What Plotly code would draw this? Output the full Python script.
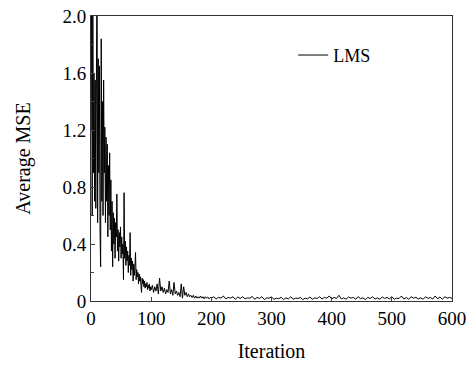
import plotly.graph_objects as go

iter_a = list(range(0, 100))
vals_a = [1.2, 2.4, 0.6, 2.3, 0.9, 1.6, 0.7, 1.55, 0.65, 1.3,
          2.4, 0.55, 1.7, 0.9, 1.65, 0.5, 0.24, 1.84, 0.7, 1.4,
          0.6, 1.55, 0.9, 1.22, 0.55, 1.15, 0.7, 1.1, 0.45, 0.95,
          0.6, 1.04, 0.5, 0.85, 0.35, 0.7, 0.24, 0.62, 0.4, 0.58,
          0.3, 0.55, 0.45, 0.75, 0.35, 0.5, 0.28, 0.48, 0.38, 0.52,
          0.3, 0.45, 0.33, 0.4, 0.15, 0.76, 0.3, 0.42, 0.25, 0.38,
          0.28, 0.35, 0.2, 0.32, 0.25, 0.48, 0.18, 0.3, 0.22, 0.28,
          0.14, 0.26, 0.18, 0.24, 0.34, 0.15, 0.22, 0.17, 0.2, 0.12,
          0.19, 0.14, 0.17, 0.11, 0.06, 0.16, 0.12, 0.15, 0.1, 0.14,
          0.09, 0.12, 0.1, 0.13, 0.08, 0.11, 0.09, 0.12, 0.07, 0.1]

iter_b = list(range(100, 200, 2))
vals_b = [0.08, 0.11, 0.06, 0.1, 0.07, 0.12, 0.05, 0.16, 0.07, 0.1,
          0.06, 0.09, 0.05, 0.08, 0.06, 0.14, 0.05, 0.08, 0.04, 0.13,
          0.05, 0.07, 0.04, 0.06, 0.03, 0.12, 0.02, 0.1, 0.04, 0.06,
          0.03, 0.05, 0.03, 0.04, 0.025, 0.04, 0.02, 0.035, 0.02, 0.03,
          0.02, 0.035, 0.02, 0.03, 0.015, 0.03, 0.02, 0.028, 0.015, 0.025]

iter_c = list(range(200, 601, 4))
vals_c = [0.02, 0.03, 0.015, 0.025, 0.02, 0.035, 0.015, 0.025, 0.02, 0.03,
          0.012, 0.028, 0.018, 0.03, 0.015, 0.022, 0.02, 0.032, 0.012, 0.025,
          0.018, 0.03, 0.01, 0.022, 0.02, 0.028, 0.012, 0.02, 0.016, 0.026,
          0.01, 0.022, 0.015, 0.03, 0.012, 0.02, 0.018, 0.025, 0.01, 0.02,
          0.015, 0.028, 0.012, 0.022, 0.018, 0.03, 0.014, 0.025, 0.02, 0.035,
          0.015, 0.025, 0.018, 0.04, 0.015, 0.022, 0.012, 0.028, 0.02, 0.025,
          0.012, 0.03, 0.016, 0.022, 0.01, 0.025, 0.018, 0.03, 0.014, 0.022,
          0.012, 0.028, 0.018, 0.025, 0.015, 0.03, 0.012, 0.02, 0.018, 0.035,
          0.014, 0.025, 0.012, 0.03, 0.02, 0.026, 0.015, 0.022, 0.012, 0.03,
          0.018, 0.025, 0.014, 0.035, 0.016, 0.028, 0.012, 0.03, 0.02, 0.025,
          0.018]

iterations = iter_a + iter_b + iter_c
mse = vals_a + vals_b + vals_c

x_ticks = [0, 100, 200, 300, 400, 500, 600]
y_ticks = [0, 0.4, 0.8, 1.2, 1.6, 2.0]
y_tick_labels = ["0", "0.4", "0.8", "1.2", "1.6", "2.0"]

FONT = "Liberation Serif, Times New Roman, serif"

fig = go.Figure()
fig.add_trace(go.Scatter(x=iterations, y=mse, mode="lines", name="LMS",
                         line=dict(color="black", width=1)))

fig.update_layout(
    width=468, height=365,
    margin=dict(l=91, r=16, t=16, b=64),
    paper_bgcolor="white", plot_bgcolor="white",
    font=dict(family=FONT, size=19, color="black"),
    showlegend=True,
    legend=dict(x=0.56, y=0.862, xanchor="left", yanchor="middle",
                bgcolor="rgba(0,0,0,0)", font=dict(family=FONT, size=18)),
)
fig.update_xaxes(range=[0, 600], tickvals=x_ticks, ticks="inside", ticklen=4,
                 showline=True, linecolor="#333", linewidth=1, mirror=True,
                 showgrid=False, zeroline=False, automargin=False,
                 ticklabeloverflow="allow",
                 title=dict(text="Iteration", font=dict(family=FONT, size=20), standoff=16),
                 tickfont=dict(family=FONT, size=19))
fig.update_yaxes(range=[0, 2.0], tickvals=y_ticks, ticktext=y_tick_labels,
                 ticks="inside", ticklen=4,
                 minor=dict(tickvals=[0.2, 0.6, 1.0, 1.4, 1.8], ticks="inside", ticklen=3),
                 showline=True, linecolor="#333", linewidth=1, mirror=True,
                 showgrid=False, zeroline=False, automargin=False,
                 ticklabeloverflow="allow",
                 title=dict(text="Average MSE", font=dict(family=FONT, size=20), standoff=26),
                 tickfont=dict(family=FONT, size=19))

fig.write_html("out.html", config={"displayModeBar": False},
               post_script="document.body.style.margin='0';document.body.style.overflow='hidden';")
